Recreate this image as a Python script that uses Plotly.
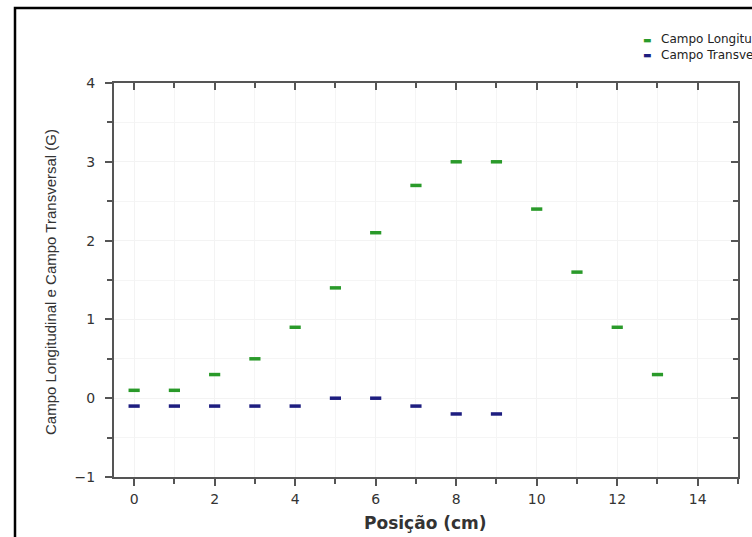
import plotly.graph_objects as go

posicao_long = [0, 1, 2, 3, 4, 5, 6, 7, 8, 9, 10, 11, 12, 13]
campo_long = [0.1, 0.1, 0.3, 0.5, 0.9, 1.4, 2.1, 2.7, 3.0, 3.0, 2.4, 1.6, 0.9, 0.3]
posicao_trans = [0, 1, 2, 3, 4, 5, 6, 7, 8, 9]
campo_trans = [-0.1, -0.1, -0.1, -0.1, -0.1, 0.0, 0.0, -0.1, -0.2, -0.2]
x_ticks = [0, 2, 4, 6, 8, 10, 12, 14]
y_ticks = [-1, 0, 1, 2, 3, 4]
series_names = ["Campo Longitudinal", "Campo Transversal"]
series_colors = ["#2a9a2a", "#1e1e80"]

W, H = 752, 537
L, R, T, B = 114, 14, 83, 60
pw, ph = W - L - R, H - T - B

def px2x(p):
    return (p - L) / pw

def py2y(p):
    return (H - B - p) / ph

fig = go.Figure()
fig.add_trace(go.Scatter(
    x=posicao_long, y=campo_long, mode="markers", name=series_names[0],
    marker=dict(symbol="line-ew", size=8, line=dict(width=3.5, color=series_colors[0])),
))
fig.add_trace(go.Scatter(
    x=posicao_trans, y=campo_trans, mode="markers", name=series_names[1],
    marker=dict(symbol="line-ew", size=8, line=dict(width=3.5, color=series_colors[1])),
))
fig.add_trace(go.Scatter(x=[], y=[], xaxis="x2", yaxis="y2", showlegend=False,
                         hoverinfo="skip"))

axis_col = "#555555"
font_tick = dict(family="DejaVu Sans, Verdana", size=14, color="#333333")

fig.update_layout(
    width=W, height=H,
    margin=dict(l=L, r=R, t=T, b=B, autoexpand=False),
    paper_bgcolor="white", plot_bgcolor="white",
    font=dict(family="DejaVu Sans, Verdana", color="#333333"),
    showlegend=False,
    xaxis=dict(range=[-0.5, 15], tickvals=x_ticks, ticks="outside", ticklen=7,
               tickwidth=1.5, tickcolor=axis_col, showline=True, linecolor=axis_col,
               linewidth=2, zeroline=False, showgrid=True, gridcolor="#f3f3f3",
               tickfont=font_tick, ticklabelstandoff=1,
               minor=dict(dtick=1, tick0=0, ticks="outside", ticklen=5,
                          tickcolor=axis_col, showgrid=True, gridcolor="#f5f5f5")),
    yaxis=dict(range=[-1, 4], tickvals=y_ticks, ticks="outside", ticklen=7,
               tickwidth=1.5, tickcolor=axis_col, showline=True, linecolor=axis_col,
               linewidth=2, zeroline=False, showgrid=True, gridcolor="#f3f3f3",
               tickfont=font_tick, ticklabelstandoff=7,
               minor=dict(dtick=0.5, tick0=0, ticks="outside", ticklen=5,
                          tickcolor=axis_col, showgrid=True, gridcolor="#f5f5f5")),
    xaxis2=dict(range=[-0.5, 15], overlaying="x", side="top", anchor="y2",
                tickvals=x_ticks, ticks="inside", ticklen=7, tickwidth=1.5,
                tickcolor=axis_col, showline=True, linecolor=axis_col, linewidth=2,
                showticklabels=False, showgrid=False, zeroline=False,
                minor=dict(dtick=1, tick0=0, ticks="inside", ticklen=5,
                           tickcolor=axis_col)),
    yaxis2=dict(range=[-1, 4], overlaying="y", side="right", anchor="x2",
                tickvals=y_ticks, ticks="inside", ticklen=7, tickwidth=1.5,
                tickcolor=axis_col, showline=True, linecolor=axis_col, linewidth=2,
                showticklabels=False, showgrid=False, zeroline=False,
                minor=dict(dtick=0.5, tick0=0, ticks="inside", ticklen=5,
                           tickcolor=axis_col)),
)

# axis titles
fig.add_annotation(text="<b>Posição (cm)</b>", xref="paper", yref="paper",
                   x=px2x(425), y=py2y(523), xanchor="center", yanchor="middle",
                   showarrow=False,
                   font=dict(family="DejaVu Sans, Verdana", size=17, color="#333333"))
fig.add_annotation(text="Campo Longitudinal e Campo Transversal (G)", xref="paper",
                   yref="paper", x=px2x(50), y=py2y(282), xanchor="center",
                   yanchor="middle", showarrow=False, textangle=-90,
                   font=dict(family="Liberation Sans Narrow, Arial Narrow, Liberation Sans",
                             size=15, color="#333333"))

# legend (compact, clipped at the right edge like the reference)
leg_rows = [40, 55]
for col, yy in zip(series_colors, leg_rows):
    fig.add_annotation(text="▬", xref="paper", yref="paper", x=px2x(647), y=py2y(yy),
                       xanchor="center", yanchor="middle", showarrow=False,
                       font=dict(family="DejaVu Sans", size=9, color=col))
fig.add_annotation(text="<br>".join(series_names), xref="paper", yref="paper",
                   x=px2x(659), y=py2y(sum(leg_rows) / 2), xanchor="left",
                   yanchor="middle", align="left", showarrow=False,
                   font=dict(family="DejaVu Sans, Verdana", size=12, color="#222222"))

fig.add_shape(type="rect", xref="paper", yref="paper",
              x0=px2x(15), y0=py2y(580), x1=px2x(800), y1=py2y(8),
              line=dict(color="black", width=2.5), layer="above")

fig.write_html("out.html")
